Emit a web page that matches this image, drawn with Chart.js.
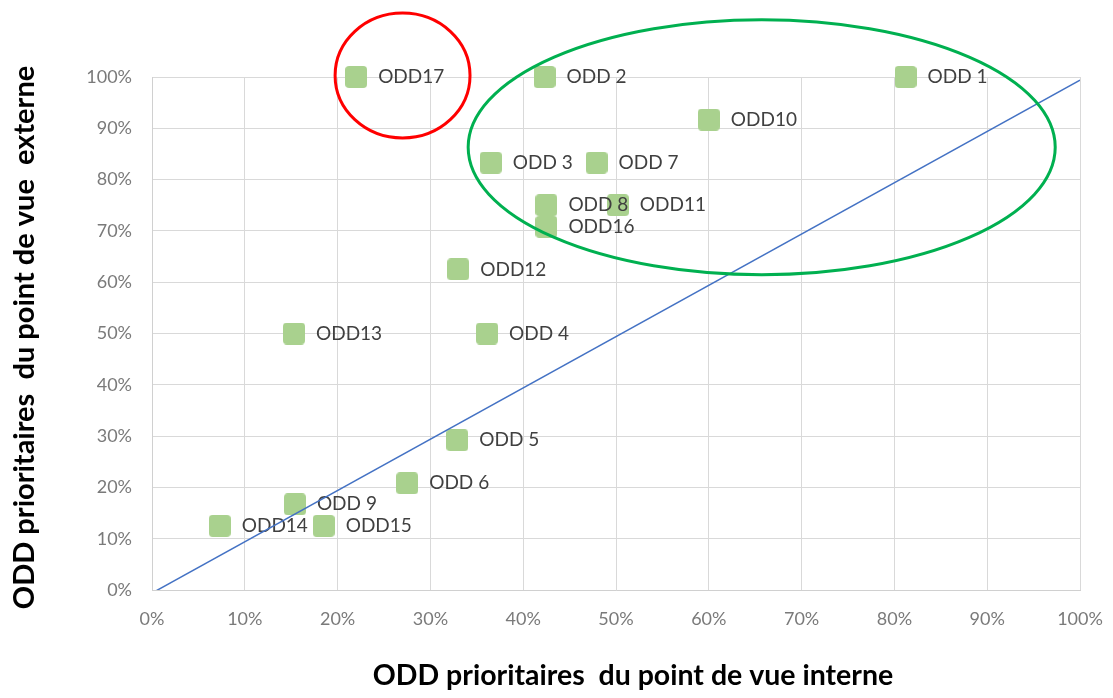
<!DOCTYPE html>
<html>
<head>
<meta charset="utf-8">
<script src="https://cdn.jsdelivr.net/npm/chart.js@4/dist/chart.umd.min.js"></script>
<style>
  html, body { margin: 0; padding: 0; background: #ffffff; }
  #wrap { width: 1113px; height: 698px; position: relative; }
</style>
</head>
<body>
<div id="wrap"><canvas id="c" width="1113" height="698"></canvas></div>
<script>
// ---- data ----
const labels = ["ODD 1","ODD 2","ODD 3","ODD 4","ODD 5","ODD 6","ODD 7","ODD 8","ODD 9","ODD10","ODD11","ODD12","ODD13","ODD14","ODD15","ODD16","ODD17"];
const internalValues = [0.812, 0.423, 0.365, 0.361, 0.329, 0.275, 0.479, 0.425, 0.154, 0.600, 0.502, 0.330, 0.153, 0.073, 0.185, 0.425, 0.220];
const externalValues = [1.000, 1.000, 0.833, 0.500, 0.292, 0.208, 0.833, 0.750, 0.167, 0.917, 0.750, 0.625, 0.500, 0.125, 0.125, 0.708, 1.000];
const refLineX = [0, 1];
const refLineY = [-0.006, 0.994];
const tickValues = [0, 0.1, 0.2, 0.3, 0.4, 0.5, 0.6, 0.7, 0.8, 0.9, 1.0];
const xTitle = "ODD prioritaires  du point de vue interne";
const yTitle = "ODD prioritaires  du point de vue  externe";
// highlight ellipses (data units): centre x, centre y, radius x, radius y
const ellipseCx = [0.270, 0.657];
const ellipseCy = [1.003, 0.863];
const ellipseRx = [0.0727, 0.3163];
const ellipseRy = [0.1218, 0.2485];
const ellipseColors = ["#ff0000", "#00b050"];

// ---- marker image ----
function makeMarker() {
  const s = 22, r = 4;
  const cv = document.createElement('canvas');
  cv.width = s; cv.height = s;
  const g = cv.getContext('2d');
  g.fillStyle = '#a9d18e';
  g.beginPath();
  g.moveTo(r, 0); g.lineTo(s - r, 0); g.quadraticCurveTo(s, 0, s, r);
  g.lineTo(s, s - r); g.quadraticCurveTo(s, s, s - r, s);
  g.lineTo(r, s); g.quadraticCurveTo(0, s, 0, s - r);
  g.lineTo(0, r); g.quadraticCurveTo(0, 0, r, 0);
  g.closePath(); g.fill();
  return cv;
}
const marker = makeMarker();

const points = labels.map((l, i) => ({ x: internalValues[i], y: externalValues[i] }));
const linePts = refLineX.map((x, i) => ({ x: x, y: refLineY[i] }));

const labelPlugin = {
  id: 'pointLabels',
  afterDatasetDraw(chart, args) {
    if (args.index !== 1) return;
    const ctx = chart.ctx;
    const meta = chart.getDatasetMeta(1);
    ctx.save();
    ctx.font = '19px Lato';
    ctx.fillStyle = '#404040';
    ctx.textAlign = 'left';
    ctx.textBaseline = 'middle';
    meta.data.forEach((el, i) => {
      ctx.fillText(labels[i], el.x + 22, el.y);
    });
    ctx.restore();
  }
};

const overlayPlugin = {
  id: 'overlay',
  afterDraw(chart) {
    const ctx = chart.ctx;
    const xs = chart.scales.x, ys = chart.scales.y;
    const ca = chart.chartArea;
    ctx.save();
    ellipseCx.forEach((cx, i) => {
      const px = xs.getPixelForValue(cx);
      const py = ys.getPixelForValue(ellipseCy[i]);
      const rx = Math.abs(xs.getPixelForValue(cx + ellipseRx[i]) - px);
      const ry = Math.abs(ys.getPixelForValue(ellipseCy[i] + ellipseRy[i]) - py);
      ctx.beginPath();
      ctx.ellipse(px, py, rx, ry, 0, 0, Math.PI * 2);
      ctx.strokeStyle = ellipseColors[i];
      ctx.lineWidth = 3;
      ctx.stroke();
    });
    ctx.fillStyle = '#000000';
    ctx.font = 'bold 28.5px Lato';
    ctx.textAlign = 'center';
    ctx.textBaseline = 'alphabetic';
    ctx.fillText(xTitle, (ca.left + ca.right) / 2 + 17, 685);
    ctx.translate(34, (ca.top + ca.bottom) / 2 + 4);
    ctx.rotate(-Math.PI / 2);
    ctx.font = 'bold 29px Lato';
    ctx.fillText(yTitle, 0, 0);
    ctx.restore();
  }
};

const pctTick = v => Math.round(v * 100) + '%';

new Chart(document.getElementById('c'), {
  type: 'scatter',
  data: {
    datasets: [
      {
        type: 'line',
        data: linePts,
        borderColor: '#4472c4',
        borderWidth: 1.5,
        pointRadius: 0,
        fill: false
      },
      {
        type: 'scatter',
        data: points,
        pointStyle: marker,
        pointRadius: 11,
        pointHoverRadius: 11,
        clip: false
      }
    ]
  },
  options: {
    responsive: false,
    animation: false,
    events: [],
    layout: { padding: { left: 0, right: 33, top: 77, bottom: 0 } },
    plugins: { legend: { display: false }, tooltip: { enabled: false } },
    scales: {
      x: {
        type: 'linear', min: 0, max: 1,
        afterBuildTicks: s => { s.ticks = tickValues.map(v => ({ value: v })); },
        afterFit: s => { s.height = 108; s.paddingLeft = 0; s.paddingRight = 0; },
        grid: { color: '#d9d9d9', lineWidth: 1, drawTicks: false },
        border: { color: '#d0d0d0', width: 1 },
        ticks: { callback: pctTick, font: { family: 'Lato', size: 18 }, color: '#7a7a7a', padding: 18, maxRotation: 0 }
      },
      y: {
        type: 'linear', min: 0, max: 1,
        afterBuildTicks: s => { s.ticks = tickValues.map(v => ({ value: v })); },
        afterFit: s => { s.width = 152; s.paddingTop = 0; s.paddingBottom = 0; },
        grid: { color: '#d9d9d9', lineWidth: 1, drawTicks: false },
        border: { color: '#d0d0d0', width: 1 },
        ticks: { callback: pctTick, font: { family: 'Lato', size: 18 }, color: '#7a7a7a', padding: 20 }
      }
    }
  },
  plugins: [labelPlugin, overlayPlugin]
});
</script>
</body>
</html>
